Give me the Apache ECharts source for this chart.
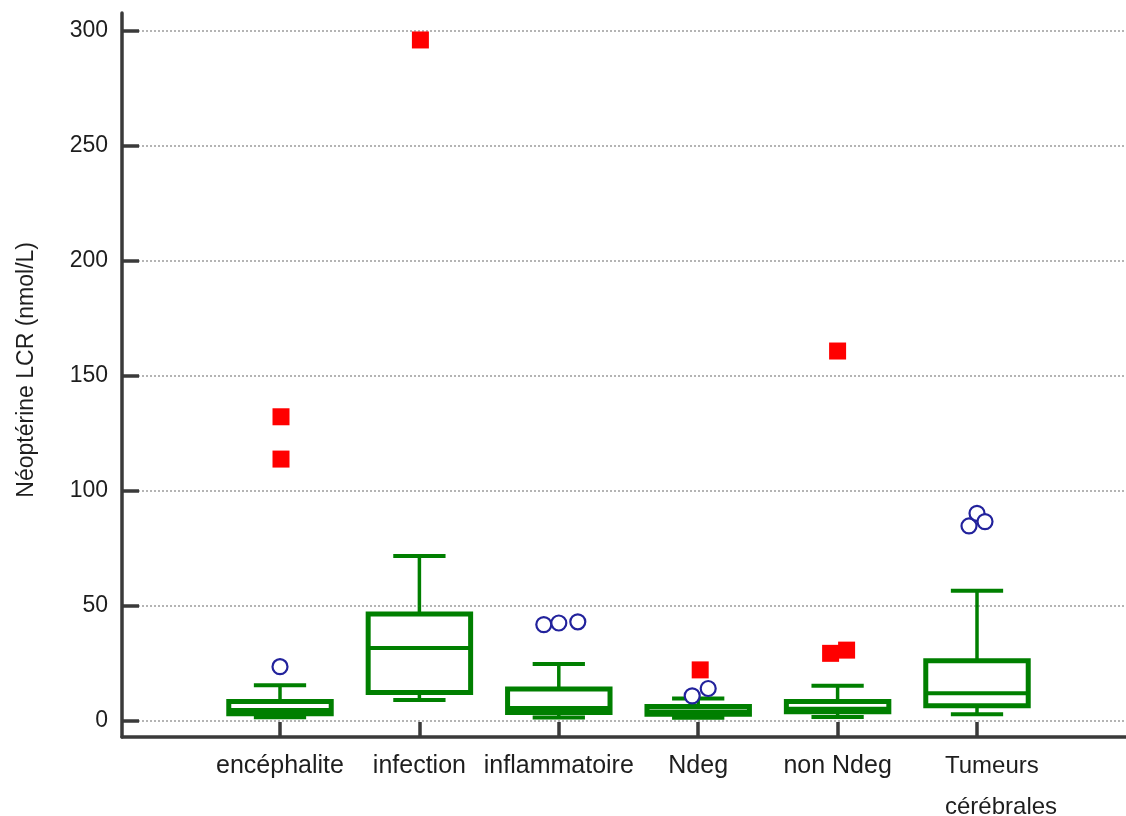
<!DOCTYPE html>
<html>
<head>
<meta charset="utf-8">
<script src="https://cdn.jsdelivr.net/npm/echarts@6/dist/echarts.min.js"></script>
<style>
  html, body { margin: 0; padding: 0; background: #fff; }
  #chart { width: 1126px; height: 816px; }
</style>
</head>
<body>
<div id="chart"></div>
<script>
// Neopterin in CSF by diagnostic group: box-and-whisker summary per group
const categories = ['encéphalite', 'infection', 'inflammatoire', 'Ndeg', 'non Ndeg', 'Tumeurs cérébrales'];
const lowWhisker  = [1.5, 9.0, 1.4, 1.3, 1.6, 2.8];
const q1          = [3.0, 12.3, 3.6, 2.8, 3.9, 6.5];
const medians     = [4.6, 31.6, 5.5, 4.0, 5.2, 11.9];
const q3          = [8.4, 46.4, 13.8, 6.2, 8.4, 26.1];
const highWhisker = [15.4, 71.6, 24.7, 9.7, 15.2, 56.5];
// outside values (open circles) and far-out values (filled squares)
const nearOutliers = [[23.5], [], [41.8, 42.5, 43.0], [10.8, 14.0], [], [84.7, 90.2, 86.6]];
const farOutliers  = [[132.2, 113.8], [296.1], [], [22.1], [160.8, 29.3, 30.7], []];
// y scale and tick labels
const yTicks = [0, 50, 100, 150, 200, 250, 300];
const yTitle = 'Néoptérine LCR (nmol/L)';

// small horizontal spread (px) so overlapping markers stay visible
const nearSpread = [[0], [], [-15, 0, 19], [-6, 10], [], [-8, 0, 8]];
const farSpread  = [[1, 1], [1], [], [2], [0, -7, 9], []];

const GREEN = '#007f00';
const AXIS = '#3a3a3a';
const TEXT = '#1e1e1e';
const FONT = '"Liberation Sans", Arial, Helvetica, sans-serif';

const yMin = yTicks[0];
const yMax = yTicks[yTicks.length - 1];
const yStep = yTicks[1] - yTicks[0];

// plot layout (px): the value scale runs from PLOT_TOP (max) to ZERO_Y (min);
// the frame's baseline sits a little below zero
const PLOT_TOP = 31;
const ZERO_Y = 720.7;
const BASE_Y = 737;
const H = 816;
const pxPerUnit = (ZERO_Y - PLOT_TOP) / (yMax - yMin);
const bandMin = yMin - (BASE_Y - ZERO_Y) / pxPerUnit;

const boxData = categories.map((c, i) => [i, lowWhisker[i], q1[i], medians[i], q3[i], highWhisker[i]]);

const nearData = [];
nearOutliers.forEach((vals, i) => vals.forEach((v, k) => {
  nearData.push({ value: [i, v], symbolOffset: [nearSpread[i][k], 0] });
}));
const farData = [];
farOutliers.forEach((vals, i) => vals.forEach((v, k) => {
  farData.push({ value: [i, v], symbolOffset: [farSpread[i][k], 0] });
}));

function renderBox(params, api) {
  const i = api.value(0);
  const band = api.size([1, 0])[0];
  const boxW = band * 0.735;
  const capW = band * 0.375;
  const pLow = api.coord([i, api.value(1)]);
  const pQ1 = api.coord([i, api.value(2)]);
  const pMed = api.coord([i, api.value(3)]);
  const pQ3 = api.coord([i, api.value(4)]);
  const pHigh = api.coord([i, api.value(5)]);
  const cx = pQ1[0];
  const line = (x1, y1, x2, y2, w) => ({
    type: 'line',
    shape: { x1, y1, x2, y2 },
    style: { stroke: GREEN, lineWidth: w, fill: null }
  });
  return {
    type: 'group',
    children: [
      line(cx, pQ3[1], cx, pHigh[1], 3.5),
      line(cx, pQ1[1], cx, pLow[1], 3.5),
      line(cx - capW / 2, pHigh[1], cx + capW / 2, pHigh[1], 4),
      line(cx - capW / 2, pLow[1], cx + capW / 2, pLow[1], 4),
      {
        type: 'rect',
        shape: { x: cx - boxW / 2, y: pQ3[1], width: boxW, height: pQ1[1] - pQ3[1] },
        style: { fill: '#ffffff', stroke: GREEN, lineWidth: 5 }
      },
      line(cx - boxW / 2, pMed[1], cx + boxW / 2, pMed[1], 4)
    ]
  };
}

const chart = echarts.init(document.getElementById('chart'), null, { renderer: 'canvas' });

chart.setOption({
  animation: false,
  backgroundColor: '#ffffff',
  textStyle: { fontFamily: FONT },
  grid: [
    // value scale: tick labels, ticks and dotted grid lines
    { left: 122, right: 0, top: PLOT_TOP, bottom: H - ZERO_Y, outerBoundsMode: 'none', containLabel: false },
    // frame: the two axis lines
    { left: 122, right: 0, top: 13, bottom: H - BASE_Y, outerBoundsMode: 'none', containLabel: false },
    // category bands for the boxes
    { left: 210.3, right: 79.3, top: PLOT_TOP, bottom: H - BASE_Y, outerBoundsMode: 'none', containLabel: false }
  ],
  xAxis: [
    { gridIndex: 0, type: 'value', show: false },
    {
      gridIndex: 1, type: 'value', min: 0, max: 1,
      axisLine: { show: true, onZero: false, lineStyle: { color: AXIS, width: 3.5 } },
      axisTick: { show: false }, axisLabel: { show: false }, splitLine: { show: false }
    },
    {
      gridIndex: 2, type: 'category', data: categories, boundaryGap: true,
      axisLine: { show: false, onZero: false },
      axisTick: { show: true, inside: true, alignWithLabel: true, length: 15, lineStyle: { color: AXIS, width: 3.5 } },
      axisLabel: {
        interval: 0, margin: 9, fontSize: 25, color: TEXT, fontFamily: FONT, lineHeight: 41,
        formatter: (v) => v.startsWith('Tumeurs')
          ? '{t|Tumeurs}\n{t|cérébrales}' : v,
        rich: { t: { width: 64, align: 'left', fontSize: 24, lineHeight: 41, color: TEXT, fontFamily: FONT } }
      },
      splitLine: { show: false }
    }
  ],
  yAxis: [
    {
      gridIndex: 0, type: 'value', min: yMin, max: yMax, interval: yStep,
      name: yTitle, nameLocation: 'middle', nameGap: 84, nameRotate: 90,
      nameTextStyle: { fontSize: 23, color: TEXT, fontFamily: FONT, padding: [0, 0, 0, 12] },
      axisLine: { show: false },
      axisTick: { show: true, inside: true, length: 17, lineStyle: { color: AXIS, width: 3.5 } },
      axisLabel: { margin: 14, fontSize: 23, color: TEXT, fontFamily: FONT },
      splitLine: { show: true, lineStyle: { color: '#9c9c9c', width: 1.5, type: [2, 2] } }
    },
    {
      gridIndex: 1, type: 'value', min: 0, max: 1,
      axisLine: { show: true, onZero: false, lineStyle: { color: AXIS, width: 3.5 } },
      axisTick: { show: false }, axisLabel: { show: false }, splitLine: { show: false }
    },
    { gridIndex: 2, type: 'value', min: bandMin, max: yMax, show: false }
  ],
  series: [
    {
      type: 'custom', name: 'box', xAxisIndex: 2, yAxisIndex: 2,
      data: boxData, renderItem: renderBox,
      encode: { x: 0, y: [1, 2, 3, 4, 5] }, clip: false, z: 2
    },
    {
      type: 'scatter', name: 'outside', xAxisIndex: 2, yAxisIndex: 2,
      data: nearData, symbol: 'circle', symbolSize: 15,
      itemStyle: { color: '#ffffff', borderColor: '#22229c', borderWidth: 2.2, opacity: 1 }, z: 3
    },
    {
      type: 'scatter', name: 'far out', xAxisIndex: 2, yAxisIndex: 2,
      data: farData, symbol: 'rect', symbolSize: 17,
      itemStyle: { color: '#ff0000', opacity: 1 }, z: 4
    }
  ]
});
</script>
</body>
</html>
